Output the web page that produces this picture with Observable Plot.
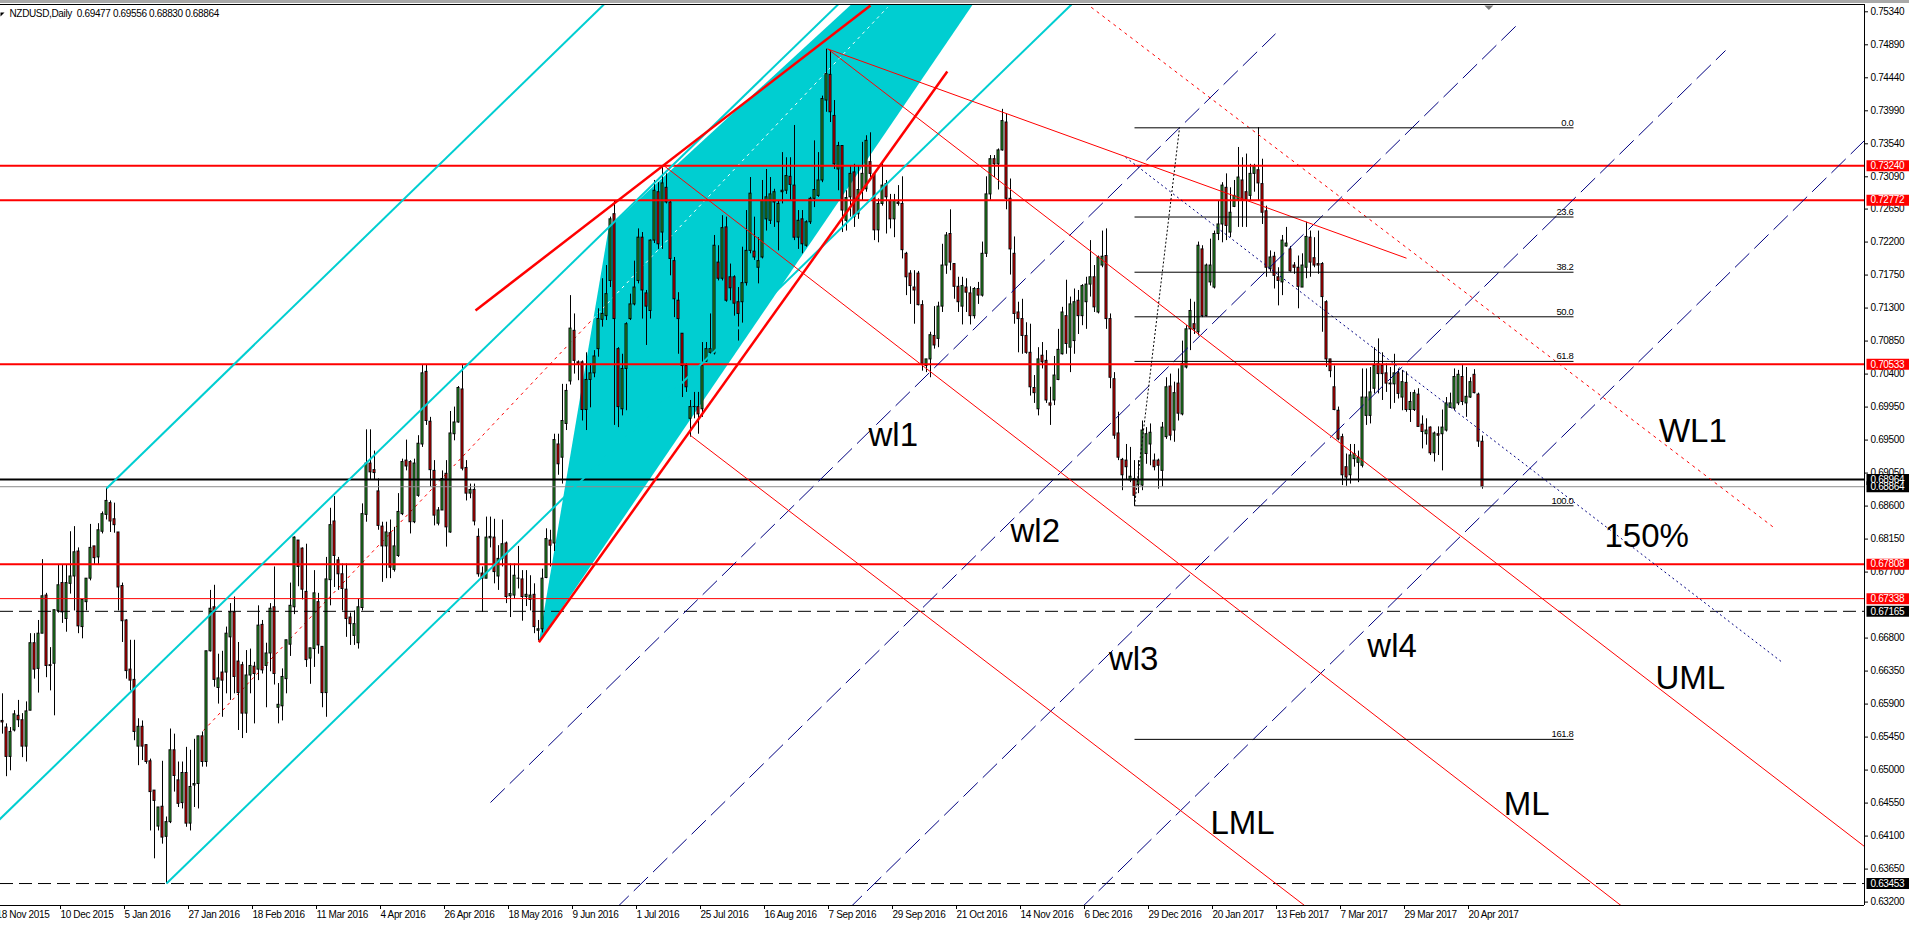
<!DOCTYPE html>
<html><head><meta charset="utf-8">
<script src="https://cdn.jsdelivr.net/npm/d3@7"></script>
<script src="https://cdn.jsdelivr.net/npm/@observablehq/plot@0.6"></script>
<style>
html,body{margin:0;padding:0;background:#fff;overflow:hidden}
#chart svg{display:block}
#chart svg text{letter-spacing:-0.35px}
#chart svg g[font-size="33"] text{letter-spacing:0}
</style></head>
<body><div id="chart"></div>
<script>
// ---------- DATA (prices in pips, 1e-4) ----------
const symbolName = "NZDUSD,Daily";
const firstBar = 2; // bar index of the first candle (bar 0 = 18 Nov 2015)
const opens = [
6567,6558,6518,6554,6574,6568,6532,6581,6673,6638,
6686,6738,6643,6645,6717,6755,6706,6754,6764,6798,
6695,6729,6761,6805,6790,6825,6848,6864,6842,6824,
6751,6704,6637,6623,6532,6559,6534,6512,6472,6423,
6450,6409,6429,6527,6486,6455,6496,6427,6479,6481,
6546,6511,6662,6722,6612,6633,6633,6681,6715,6648,
6643,6577,6629,6641,6637,6698,6642,6659,6722,6585,
6587,6624,6671,6722,6813,6802,6743,6652,6665,6729,
6668,6605,6759,6839,6786,6767,6746,6708,6683,6673,
6721,6848,6918,6909,6880,6832,6805,6823,6773,6792,
6849,6922,6920,6838,6874,6944,7043,6975,6908,6836,
6854,6904,6824,6958,6974,7019,6912,6877,6882,6818,
6768,6761,6816,6817,6764,6788,6809,6737,6738,6761,
6760,6736,6732,6739,6690,6692,6762,6813,6809,6944,
6926,6972,7030,7099,7056,7056,6991,7032,7041,7074,
7114,7119,7167,7258,7074,6992,7047,7115,7135,7167,
7226,7150,7126,7222,7288,7233,7294,7274,7194,7140,
7095,7051,6979,6995,6995,6992,7057,7069,7068,7192,
7170,7240,7172,7172,7138,7138,7164,7208,7207,7185,
7199,7251,7249,7274,7247,7288,7290,7309,7297,7226,
7251,7215,7247,7279,7283,7304,7413,7448,7392,7319,
7351,7249,7281,7315,7258,7290,7292,7329,7312,7236,
7272,7299,7276,7251,7274,7272,7204,7177,7158,7177,
7134,7051,7060,7092,7088,7132,7188,7231,7190,7159,
7132,7158,7150,7119,7156,7147,7204,7285,7333,7326,
7345,7383,7279,7204,7124,7115,7092,7069,7021,6992,
7065,7058,7000,7004,7032,7067,7119,7076,7085,7140,
7119,7138,7162,7172,7124,7188,7201,7115,7033,6959,
6923,6922,6895,6897,6889,6888,6931,6944,6922,6922,
6908,6954,7023,6963,7027,6985,7049,7101,7108,7097,
7210,7119,7165,7158,7231,7244,7294,7233,7268,7276,
7304,7288,7283,7313,7318,7299,7262,7183,7200,7172,
7165,7214,7210,7188,7185,7158,7185,7226,7198,7190,
7190,7138,7060,7022,6990,6954,6913,6902,6924,6919,
6915,6983,6983,7020,7054,7051,7041,7027,7026,7041,
7008,7028,6991,6991,7012,6971,6958,6967,6932,6958,
6958,6963,6994,6993,7000,7036,7000,7008,7039,7012,
6947.7];
const highs = [
6604,6563,6558,6581,6595,6577,6593,6686,6686,6704,
6787,6741,6667,6718,6779,6779,6779,6825,6832,6803,
6732,6761,6835,6805,6836,6852,6884,6867,6864,6824,
6755,6705,6677,6677,6570,6567,6534,6515,6472,6449,
6512,6436,6556,6549,6511,6511,6531,6527,6542,6546,
6552,6662,6745,6752,6658,6662,6695,6727,6736,6674,
6647,6663,6665,6647,6724,6704,6673,6727,6777,6618,
6638,6677,6755,6818,6813,6803,6808,6666,6772,6741,
6668,6790,6857,6873,6790,6781,6781,6714,6717,6733,
6863,6964,6964,6935,6897,6838,6838,6841,6831,6877,
6924,6950,6922,6924,6956,7053,7053,6981,6922,6858,
6908,6922,6989,6995,7023,7053,6922,6890,6890,6829,
6777,6845,6845,6842,6806,6841,6811,6781,6781,6805,
6772,6772,6765,6754,6704,6774,6829,6827,6958,6958,
7026,7026,7147,7122,7058,7058,7069,7054,7072,7129,
7170,7188,7254,7276,7076,7067,7110,7149,7194,7238,
7233,7154,7223,7304,7301,7324,7313,7276,7199,7151,
7095,7054,7004,7015,7015,7083,7083,7122,7229,7215,
7256,7254,7190,7174,7158,7213,7263,7308,7254,7226,
7304,7319,7308,7292,7276,7342,7335,7335,7379,7263,
7263,7249,7281,7358,7342,7419,7483,7481,7413,7356,
7351,7290,7324,7326,7324,7356,7365,7369,7314,7279,
7329,7304,7285,7285,7297,7309,7206,7181,7181,7180,
7140,7060,7097,7132,7138,7217,7233,7264,7190,7172,
7172,7170,7159,7158,7165,7220,7309,7338,7338,7347,
7401,7395,7306,7227,7138,7142,7110,7108,7038,7076,
7083,7072,7022,7064,7101,7131,7168,7145,7156,7154,
7162,7172,7222,7188,7201,7235,7238,7122,7042,6988,
6925,6944,6940,6922,6922,6976,6967,6972,6931,6924,
6974,7035,7040,7029,7047,7085,7106,7142,7138,7220,
7215,7190,7224,7235,7276,7301,7313,7294,7304,7349,
7335,7340,7326,7326,7376,7333,7269,7208,7206,7185,
7229,7240,7214,7192,7201,7204,7247,7235,7226,7235,
7192,7140,7060,7051,6995,6958,6931,6944,6944,6935,
7047,7047,7049,7076,7088,7069,7054,7049,7067,7047,
7045,7043,7015,7018,7020,6983,6979,6968,6961,6968,
6991,7008,7014,7047,7045,7052,7049,7035,7046,7014,
6955.6];
const lows = [
6549,6491,6499,6552,6558,6517,6511,6581,6624,6605,
6686,6626,6608,6574,6714,6700,6688,6740,6717,6686,
6679,6717,6758,6780,6779,6822,6841,6824,6823,6717,
6674,6624,6608,6540,6506,6513,6508,6417,6379,6417,
6399,6345,6427,6470,6449,6447,6422,6417,6449,6447,
6504,6504,6661,6613,6590,6572,6604,6595,6604,6554,
6543,6550,6604,6563,6622,6631,6585,6634,6616,6563,
6567,6604,6655,6712,6750,6732,6640,6617,6640,6658,
6585,6572,6724,6749,6745,6717,6681,6670,6670,6665,
6717,6838,6895,6895,6827,6756,6761,6761,6770,6790,
6847,6908,6822,6836,6872,6940,6970,6886,6833,6833,
6854,6804,6823,6949,6973,6908,6867,6870,6833,6763,
6715,6761,6803,6754,6745,6777,6727,6708,6733,6747,
6703,6723,6717,6686,6676,6687,6761,6777,6798,6902,
6890,6963,7025,7040,7031,6976,6963,6994,7035,7063,
7104,7113,7158,6970,6967,6983,6990,7113,7133,7163,
7115,7079,7115,7218,7210,7210,7272,7174,7117,7067,
7008,7015,6954,6979,6958,6981,7056,7067,7066,7167,
7167,7138,7140,7119,7085,7108,7160,7204,7195,7163,
7197,7235,7244,7240,7208,7272,7285,7276,7222,7210,
7204,7213,7244,7267,7281,7301,7397,7383,7319,7290,
7233,7235,7254,7240,7251,7276,7288,7308,7222,7219,
7269,7231,7238,7226,7269,7197,7147,7135,7108,7133,
7044,7042,7035,7074,7076,7124,7176,7181,7142,7124,
7107,7124,7107,7115,7135,7145,7199,7277,7308,7291,
7344,7264,7175,7108,7069,7067,7067,7010,7000,6983,
7047,7000,6970,6997,7031,7066,7067,7042,7067,7094,
7106,7101,7145,7124,7122,7185,7101,7020,6951,6922,
6881,6895,6892,6860,6877,6881,6917,6915,6908,6883,
6886,6951,6949,6947,6976,6983,7047,7072,7094,7092,
7117,7118,7160,7156,7222,7219,7222,7226,7267,7240,
7240,7240,7276,7288,7276,7244,7172,7179,7156,7133,
7147,7213,7179,7176,7129,7158,7170,7172,7185,7176,
7097,7049,7035,6990,6949,6888,6887,6890,6913,6892,
6912,6970,6972,7013,7013,7004,7015,6992,7000,7006,
6990,6988,6974,6989,6968,6938,6943,6929,6920,6929,
6908,6961,6993,6990,6997,6997,6981,7007,7013,6940,
6883.0];
const closes = [
6565,6518,6552,6576,6568,6532,6580,6673,6637,6686,
6737,6642,6642,6718,6752,6715,6755,6764,6797,6696,
6732,6761,6803,6789,6827,6849,6867,6839,6834,6749,
6703,6635,6622,6552,6559,6532,6511,6470,6458,6449,
6408,6429,6527,6492,6454,6496,6427,6477,6481,6546,
6511,6662,6720,6623,6625,6622,6686,6715,6627,6605,
6577,6629,6642,6631,6697,6636,6659,6720,6631,6589,
6627,6677,6724,6817,6777,6746,6650,6666,6741,6670,
6605,6760,6834,6792,6767,6747,6706,6699,6699,6722,
6849,6918,6906,6905,6833,6805,6824,6776,6805,6852,
6920,6914,6838,6918,6945,7041,6976,6909,6847,6854,
6897,6831,6959,6974,7021,6911,6877,6882,6839,6767,
6761,6817,6818,6770,6788,6808,6736,6740,6765,6761,
6736,6739,6738,6695,6692,6761,6815,6806,6950,6917,
6976,7017,7102,7058,7054,6991,7032,7041,7064,7115,
7122,7149,7251,7115,6995,7047,7108,7135,7158,7226,
7154,7132,7222,7290,7217,7300,7274,7197,7142,7115,
7051,7022,6995,6995,6985,7051,7074,7074,7215,7170,
7239,7140,7157,7136,7122,7164,7208,7286,7199,7194,
7276,7281,7285,7288,7272,7290,7310,7298,7226,7249,
7217,7247,7279,7291,7304,7415,7449,7397,7326,7351,
7263,7280,7313,7254,7291,7313,7358,7313,7236,7272,
7297,7281,7251,7276,7272,7209,7172,7160,7154,7134,
7054,7060,7093,7079,7132,7188,7229,7192,7159,7138,
7160,7151,7119,7156,7147,7204,7285,7333,7326,7345,
7385,7279,7210,7122,7115,7092,7069,7022,7014,7060,
7056,7004,6997,7038,7073,7124,7081,7135,7138,7119,
7160,7162,7172,7131,7199,7200,7115,7035,6956,6926,
6902,6913,6900,6874,6896,6963,6958,6960,6913,6915,
6967,7022,6956,7014,6986,7054,7101,7126,7101,7215,
7119,7188,7188,7231,7244,7297,7242,7260,7283,7308,
7276,7276,7313,7323,7300,7260,7185,7199,7174,7167,
7222,7218,7180,7185,7159,7188,7227,7192,7188,7188,
7145,7060,7044,6991,6951,6902,6899,6929,6931,6926,
7008,7008,7015,7051,7040,7040,7027,7026,7041,7013,
7029,6991,7002,7014,6968,6961,6963,6932,6959,6956,
6967,7000,7000,7036,7039,7002,7009,7029,7014,6948,
6886.4];

// date axis: bar index of each label
const dateTickBars = [0,16,32,48,64,80,96,112,128,144,160,176,192,208,224,240,256,272,288,304,320,336,352,368];
const dateTickLabels = ["18 Nov 2015","10 Dec 2015","5 Jan 2016","27 Jan 2016","18 Feb 2016","11 Mar 2016","4 Apr 2016","26 Apr 2016","18 May 2016","9 Jun 2016","1 Jul 2016","25 Jul 2016","16 Aug 2016","7 Sep 2016","29 Sep 2016","21 Oct 2016","14 Nov 2016","6 Dec 2016","29 Dec 2016","20 Jan 2017","13 Feb 2017","7 Mar 2017","29 Mar 2017","20 Apr 2017"];
const priceTicks = [0.75340,0.74890,0.74440,0.73990,0.73540,0.73090,0.72650,0.72200,0.71750,0.71300,0.70850,0.70400,0.69950,0.69500,0.69050,0.68600,0.68150,0.67700,0.66800,0.66350,0.65900,0.65450,0.65000,0.64550,0.64100,0.63650,0.63200];

// horizontal levels
const levelPrices = [0.73240,0.72772,0.70533,0.68964,0.68864,0.67808,0.67338,0.67165,0.63453];
const levelKinds  = ["redThick","redThick","redThick","blackThick","bid","redThick","redThin","blackDash","blackDash"];

// trend objects: [bar1, price1, bar2, price2]
const cyanChannel = [[28,0.6884,152.35,0.7544],[0,0.6426,210.9,0.7544],[43,0.63453,269.25,0.7544]];
const cyanTriangle = [[136.08,0.66744],[153.58,0.72403],[295.25,0.79503]];
const redWedge = [[120.25,0.71267,219,0.75426],[136.1,0.66744,238.2,0.74526]];
const redThin = [[208.2,0.74835,353,0.71980],[208.5,0.74826,467.5,0.63958],[167.3,0.73244,406.7,0.6315],[174,0.69563,327.6,0.6315]];
const redDottedChannel = [[52.25,0.6554],[149.65,0.71156],[223.25,0.7540]];
const warningLine = [[270,0.75576,445.25,0.68290]];
const blueDotted = [[282.75,0.73357,446.9,0.66471]];
const blueDashed = [[124,0.64558,320.25,0.75040],[155,0.63094,381.1,0.75185],[213.3,0.63094,432.75,0.74812],[271.2,0.63094,467.5,0.73585]];

// Fibonacci retracement
const fibLowAnchor = [285, 0.68604];
const fibHighAnchor = [296.25, 0.73758];
const fibEndBar = 394.75;
const fibLevels = [0, 23.6, 38.2, 50.0, 61.8, 100.0, 161.8];

// text annotations [text, bar, price]
const notes = [["wl1",218.5,0.69426],["wl2",254,0.68108],["wl3",278.6,0.66358],["wl4",343.2,0.66539],
  ["LML",304,0.64131],["ML",377.3,0.64381],["UML",415.25,0.66108],["WL1",416.1,0.69471],["150%",402.5,0.68039]];
const chartShiftBar = 373.6;

// ---------- BUILD ----------
const RED = "#ff0000", GREEN = "#2fb12f", CYAN = "#00ced1", NAVY = "#000080";
const candles = opens.map((o, i) => ({k: firstBar + i, o: o / 1e4, h: highs[i] / 1e4, l: lows[i] / 1e4, c: closes[i] / 1e4}));
const bull = candles.filter(d => d.c >= d.o), bear = candles.filter(d => d.c < d.o);
const bodyTop = d => (Math.abs(d.c - d.o) < 1e-6 ? d.o + 2e-6 : d.c);
const levels = levelPrices.map((p, i) => ({price: p, kind: levelKinds[i]}));
const seg = a => ({k1: a[0], p1: a[1], k2: a[2], p2: a[3]});
const fibRows = fibLevels.map(l => ({lvl: l, price: fibHighAnchor[1] - (fibHighAnchor[1] - fibLowAnchor[1]) * l / 100}));
const labelMap = new Map(dateTickBars.map((b, i) => [b, dateTickLabels[i]]));
const last = candles[candles.length - 1];
const header = `${symbolName} \u00a0${last.o.toFixed(5)} ${last.h.toFixed(5)} ${last.l.toFixed(5)} ${last.c.toFixed(5)}`;
const linkOpts = (extra) => ({x1: "k1", y1: "p1", x2: "k2", y2: "p2", clip: true, ...extra});
const boxSymbol = {draw(ctx) { ctx.moveTo(2, -5.5); ctx.lineTo(45, -5.5); ctx.lineTo(45, 5.5); ctx.lineTo(2, 5.5); ctx.closePath(); }};
const shiftSymbol = {draw(ctx) { ctx.moveTo(-4.5, 1); ctx.lineTo(4.5, 1); ctx.lineTo(0, 5.5); ctx.closePath(); }};
const cornerSymbol = {draw(ctx) { ctx.moveTo(0, 8); ctx.lineTo(4, 8); ctx.lineTo(0, 12); ctx.closePath(); }};
const redBoxes = levels.filter(d => d.kind.startsWith("red"));
const blackBoxes = levels.filter(d => !d.kind.startsWith("red"));

const chart = Plot.plot({
  width: 1909, height: 925,
  marginTop: 4, marginBottom: 20, marginLeft: 0, marginRight: 45,
  x: {type: "linear", domain: [1.5, 467.5]},
  y: {type: "linear", domain: [0.631535, 0.754396]},
  style: {fontFamily: "'Liberation Sans', Arial, sans-serif", fontSize: "10px", color: "black",
          background: "linear-gradient(#a9a9a9 0 3px, #ffffff 3px)", overflow: "hidden"},
  marks: [
    // filled triangle (background object)
    Plot.line(cyanTriangle, {x: d => d[0], y: d => d[1], fill: CYAN, stroke: "none", clip: true}),
    Plot.link([seg([...redDottedChannel[0], ...redDottedChannel[1]])], linkOpts({stroke: RED, strokeDasharray: "3,4"})),
    Plot.link([seg([...redDottedChannel[1], ...redDottedChannel[2]])], linkOpts({stroke: "white", strokeDasharray: "3,4"})),
    // candles
    Plot.ruleX(candles, {x: "k", y1: "l", y2: "h", stroke: "black", strokeWidth: 1}),
    Plot.rect(bull, {x1: d => d.k - 0.25, x2: d => d.k + 0.25, y1: "o", y2: bodyTop, fill: GREEN, stroke: "black", strokeWidth: 1}),
    Plot.rect(bear, {x1: d => d.k - 0.25, x2: d => d.k + 0.25, y1: "o", y2: "c", fill: RED, stroke: "black", strokeWidth: 1}),
    // horizontal levels
    Plot.ruleY(levels.filter(d => d.kind === "redThick"), {y: "price", stroke: RED, strokeWidth: 2}),
    Plot.ruleY(levels.filter(d => d.kind === "redThin"), {y: "price", stroke: RED, strokeWidth: 1}),
    Plot.ruleY(levels.filter(d => d.kind === "blackThick"), {y: "price", stroke: "black", strokeWidth: 2}),
    Plot.ruleY(levels.filter(d => d.kind === "bid"), {y: "price", stroke: "#8c8c8c", strokeWidth: 1}),
    Plot.ruleY(levels.filter(d => d.kind === "blackDash"), {y: "price", stroke: "black", strokeWidth: 1, strokeDasharray: "13,6"}),
    // trend lines
    Plot.link(cyanChannel.map(seg), linkOpts({stroke: CYAN, strokeWidth: 2})),
    Plot.link(blueDashed.map(seg), linkOpts({stroke: NAVY, strokeWidth: 1, strokeDasharray: "20,7"})),
    Plot.link(blueDotted.map(seg), linkOpts({stroke: NAVY, strokeWidth: 1, strokeDasharray: "2,3"})),
    Plot.link(warningLine.map(seg), linkOpts({stroke: RED, strokeWidth: 1, strokeDasharray: "3,4"})),
    Plot.link(redThin.map(seg), linkOpts({stroke: RED, strokeWidth: 1})),
    Plot.link(redWedge.map(seg), linkOpts({stroke: RED, strokeWidth: 2.5})),
    // fibonacci
    Plot.link([seg([...fibLowAnchor, ...fibHighAnchor])], linkOpts({stroke: "black", strokeDasharray: "2,2"})),
    Plot.link(fibRows, {x1: () => fibLowAnchor[0], x2: () => fibEndBar, y1: "price", y2: "price", stroke: "black", strokeWidth: 1}),
    Plot.text(fibRows, {x: () => fibEndBar, y: "price", text: d => d.lvl.toFixed(1), textAnchor: "end", lineAnchor: "bottom", dy: -2, fontSize: 9.5, fill: "black"}),
    // annotations
    Plot.text(notes, {x: d => d[1], y: d => d[2], text: d => d[0], textAnchor: "start", lineAnchor: "bottom", fontSize: 33, fill: "black"}),
    // frame
    Plot.ruleY([0.754396], {stroke: "black"}),
    Plot.ruleY([0.631535], {stroke: "black"}),
    Plot.ruleX([467.5], {stroke: "black"}),
    // axes
    Plot.axisX({ticks: dateTickBars, tickFormat: d => labelMap.get(d), anchor: "bottom", tickSize: 4, tickPadding: 1, textAnchor: "start", dx: 2, fontSize: 10, label: null}),
    Plot.axisY({ticks: priceTicks, tickFormat: d => d.toFixed(5), anchor: "right", tickSize: 3, tickPadding: 3, fontSize: 10, label: null}),
    // price boxes
    Plot.dot(redBoxes, {y: "price", frameAnchor: "right", symbol: boxSymbol, fill: RED, stroke: "none", r: 5}),
    Plot.dot(blackBoxes, {y: "price", frameAnchor: "right", symbol: boxSymbol, fill: "black", stroke: "none", r: 5}),
    Plot.text(levels, {y: "price", text: d => d.price.toFixed(5), frameAnchor: "right", dx: 6, textAnchor: "start", fill: "white", fontSize: 10}),
    // header, corner marker & chart shift marker
    Plot.dot([0], {frameAnchor: "top-left", symbol: cornerSymbol, fill: "black", stroke: "none", r: 4}),
    Plot.text([header], {text: d => d, frameAnchor: "top-left", dx: 9, dy: 12.5, lineAnchor: "bottom", fontSize: 10, fill: "black"}),
    Plot.dot([chartShiftBar], {x: d => d, frameAnchor: "top", symbol: shiftSymbol, fill: "#7a7a7a", stroke: "none", r: 4})
  ]
});
document.getElementById("chart").append(chart);
</script>
</body></html>
